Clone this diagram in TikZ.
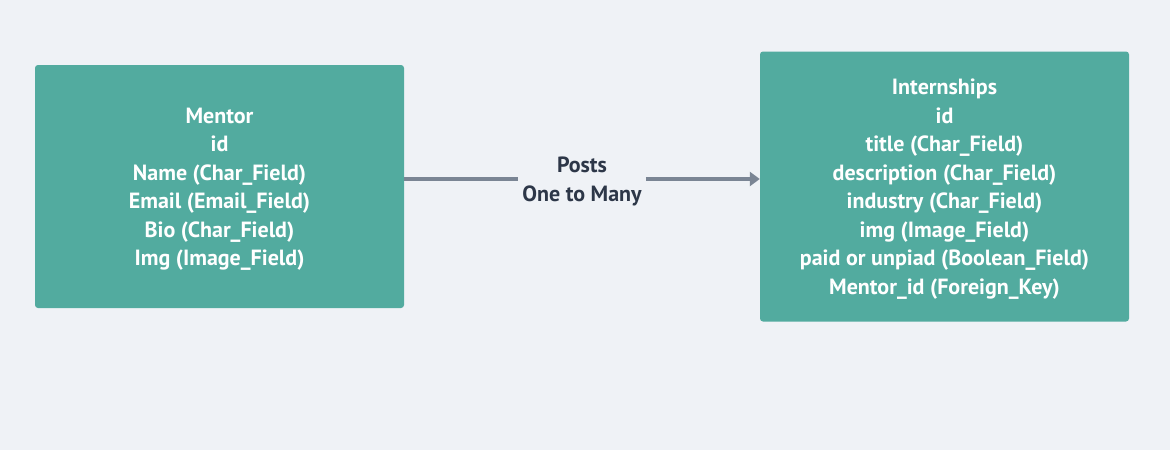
\documentclass[tikz,border=0pt]{standalone}
\usepackage{fontspec}
\setmainfont{PT Sans}
\usetikzlibrary{arrows.meta}

\definecolor{bgcol}{HTML}{EFF2F6}
\definecolor{tealfill}{HTML}{52AB9F}
\definecolor{linkgray}{HTML}{7A8594}
\definecolor{labeltext}{HTML}{2D3748}

\tikzstyle{entity}=[fill=tealfill,rectangle,rounded corners=3pt,text=white,align=center,minimum width=369pt,font=\bfseries\fontsize{22}{28.5}\selectfont]
\tikzstyle{relation}=[align=center,text=labeltext,inner xsep=4pt,inner ysep=0pt,font=\bfseries\fontsize{22}{28.5}\selectfont]
\tikzstyle{link}=[draw=linkgray,line width=4.5pt]

\begin{document}
\begin{tikzpicture}[x=1pt,y=-1pt]
      \fill [bgcol] (0,0) rectangle (1170,450);
      \useasboundingbox (0,0) rectangle (1170,450);
      \node [entity,minimum height=243pt] (mentor) at (219.5,186.5) {\rule{0pt}{21pt}Mentor\\id\\Name (Char\_Field)\\Email (Email\_Field)\\Bio (Char\_Field)\\Img (Image\_Field)};
      \node [entity,minimum height=270pt] (intern) at (944.5,186.5) {\rule{0pt}{21pt}Internships\\id\\title (Char\_Field)\\description (Char\_Field)\\industry (Char\_Field)\\img (Image\_Field)\\paid or unpiad (Boolean\_Field)\\Mentor\_id (Foreign\_Key)};
      \node [relation] (posts) at (582,181.5) {Posts\\One to Many};
      \draw [link] (mentor.east |- 0,179) -- (posts.west |- 0,179);
      \draw [link,-{Triangle[length=10pt,width=14pt]}] (posts.east |- 0,179) -- (intern.west |- 0,179);
    \end{tikzpicture}
\end{document}
